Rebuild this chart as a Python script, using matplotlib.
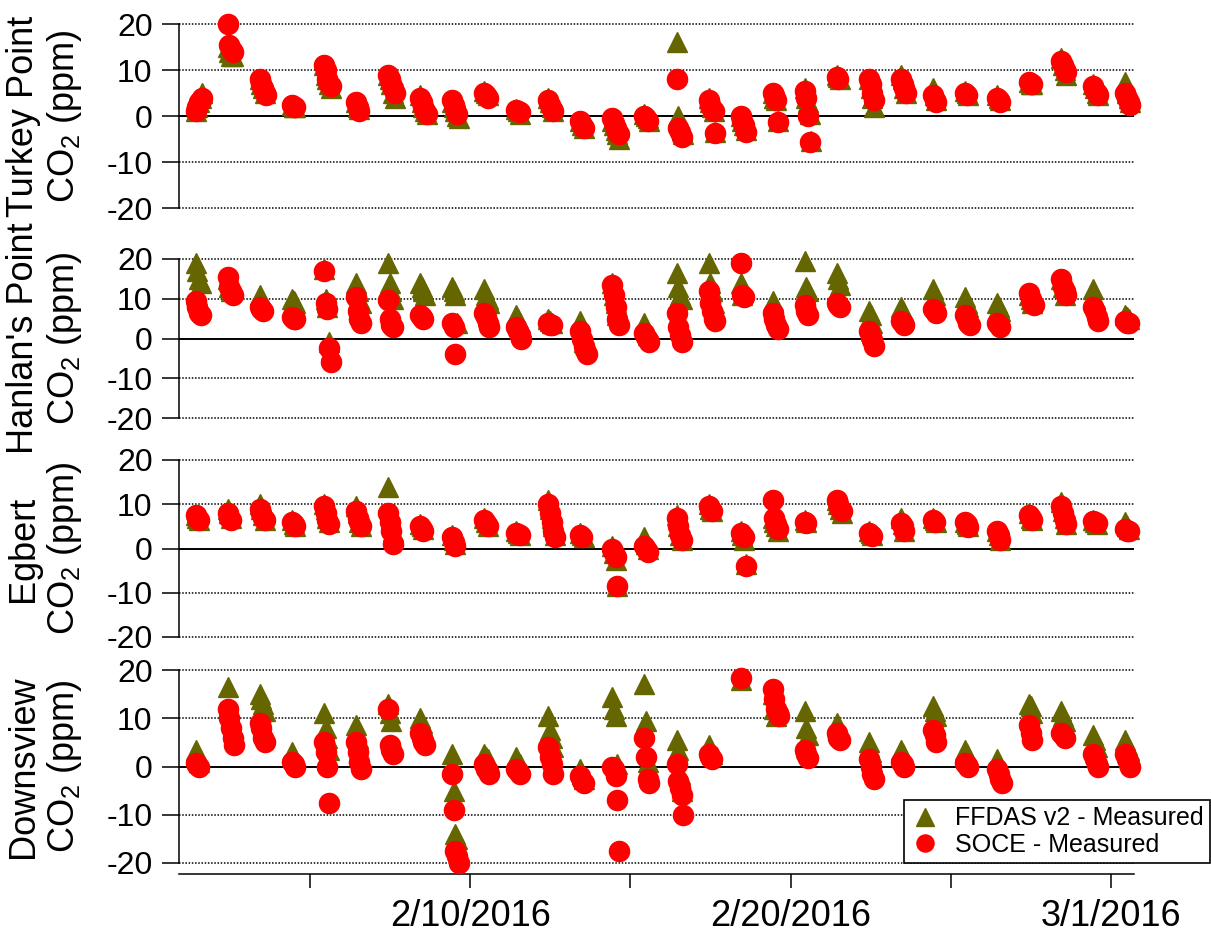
import matplotlib
matplotlib.use('Agg')
import matplotlib.pyplot as plt
import matplotlib.dates as mdates
from matplotlib.ticker import FixedLocator, FuncFormatter
from datetime import datetime, timedelta

plt.rcParams['font.family'] = ['Liberation Sans', 'DejaVu Sans']
plt.rcParams['mathtext.fontset'] = 'custom'
plt.rcParams['mathtext.rm'] = 'Liberation Sans'
plt.rcParams['mathtext.it'] = 'Liberation Sans:italic'
plt.rcParams['axes.unicode_minus'] = False

# ---------------- data ----------------
DAYS = [datetime(2016, 2, 1) + timedelta(days=i) for i in range(30)]  # Feb 1 .. Mar 1
HOURS = [10.5, 11.75, 13, 14.25, 15.5]  # sampling hours within each day

SITES = ["Turkey Point", "Hanlan's Point", "Egbert", "Downsview"]

TP_FFDAS = [[1, 2, 3, 4, 5], [15, 14, 13, 13], [8, 7, 6, 5], [2.5, 2, 2], [11, 9, 8, 7, 6],
            [3, 2, 1.5], [9, 8, 7, 5, 4], [4.5, 3, 2, 1, 0.5], [3, 2, 1, 0, -0.5], [5.5, 5, 4.5],
            [1.5, 1, 0.5], [4, 3, 2, 1], [-1, -2, -2.5], [-1, -2, -3, -4, -5], [0.5, 0, -0.5, -1],
            [16, 0, -2, -3, -4], [4, 3, 2, 1, -3.5], [0, -1, -2, -3], [5, 4, 3.5, -1], [6, 4, 3, 0.5, -5.5],
            [9, 8.5, 8], [8, 6, 4, 2], [9, 8, 6, 5], [6, 4.5, 3.5], [5.5, 5, 4.5],
            [4.5, 4, 3.5], [7.5, 7, 7], [12.5, 11, 10, 9], [7, 6, 5, 4.5], [7.5, 5, 4, 3]]
TP_SOCE = [[1, 2, 3, 3.5, 4], [20, 15.5, 14.5, 14], [8, 7, 6, 5, 4.5], [2.5, 2, 2], [11, 10, 8, 7, 6.5],
           [3, 2, 1], [9, 8, 7, 6, 5], [4, 3, 2, 1, 0.5], [3.5, 2.5, 1.5, 0.5], [5, 4.5, 4],
           [1.2, 1, 0.8], [3.5, 2.5, 1.5, 1], [-1, -2, -2.5], [-0.5, -1.5, -2.5, -3.5, -4], [0, -0.5, -1],
           [8, -2.5, -3.5, -4.5], [3.5, 2.5, 1.5, 1, -3.7], [0, -1, -2, -3.5], [5, 4.5, 3.5, -1.3], [5.5, 4, 0, -5.6],
           [8.5, 8], [8, 7, 5, 3.5], [8, 7, 6, 5], [4.5, 3.5, 3], [5, 4.5],
           [4, 3.5, 3], [7.5, 7, 7], [12, 11, 10, 9.5], [6.5, 5.5, 5, 4.5], [5, 4, 3, 2.5]]

HP_FFDAS = [[19, 17, 15, 14], [15, 13, 12], [11, 10, 9], [10, 9.5, 9], [17.5, 10, 8, -1, -3],
            [14, 12, 10, 9], [19, 14, 12, 10], [14, 13, 12, 11], [13, 12, 11, 4], [12.5, 11, 10, 9],
            [6, 5, 4, 2], [5, 4.5, 4], [4.5, 2, -1], [14, 11, 9, 6], [4, 2.5, 1],
            [16.5, 13, 11, 10], [19, 14, 12, 9], [14, 11], [9.5, 8, 6, 5], [19.5, 13, 12],
            [16.5, 15, 13.5], [7, 6, 4], [8, 7], [12.5, 11], [10.5, 9, 8],
            [9, 8, 7], [11, 10, 9], [15, 13, 11], [12.5, 10, 8], [6, 5.5, 5]]
HP_SOCE = [[9.5, 8, 6.5, 6], [15.5, 13, 12, 11], [8, 7.5, 7], [5.5, 5, 4.8], [17, 9, 7.5, -2.5, -6],
           [10.5, 7, 5, 4], [9.8, 5, 3.5, 2.8], [6, 5.5, 5], [4, 3, -3.8], [6.5, 5.5, 4, 3],
           [3, 2, 1, 0], [4, 3.5, 3.5], [2, 0, -2, -3, -4], [13.5, 11, 8, 5, 3.5], [1.5, 0.5, -0.5, -1],
           [6.5, 3, 1, -1], [12, 9, 7, 5, 4.5], [19, 11, 10.5], [6.5, 5, 3.5, 2.5], [8.5, 7, 6],
           [9, 8.5, 8], [2, 0.5, -0.5, -1.8], [4.5, 4, 3.5], [7.5, 7, 6.5], [6, 5, 4, 3.5],
           [4, 3.5, 3], [11.5, 10, 9, 8.5], [15, 13, 12, 11], [8, 7, 5.5, 4.5], [4.5, 4, 4]]

EG_FFDAS = [[7.5, 7, 6.5], [9, 8, 7], [10, 9, 7.5, 6.5], [6.5, 5.5, 5], [10, 9, 7, 6],
            [9.5, 8, 6, 5], [14, 8, 6, 4], [5.5, 5, 4.5], [3, 2, 1], [7, 6, 5],
            [4, 3.5, 3], [11, 9, 7, 5, 3], [3.5, 3, 2.5], [0.5, -1, -2.5, -8.5], [2.5, 1, 0],
            [7.5, 5, 3, 2], [10, 9, 8.5], [4, 3, 2, -3.5], [7, 6, 5, 4], [6.5, 6],
            [11, 10, 9, 8], [4, 3.5, 3], [7, 5.5, 4], [7, 6.5, 6], [6, 5.5, 5],
            [4, 3, 2], [8, 7, 6.5], [10.5, 8.5, 7, 5.5], [6.5, 6, 5.5], [6, 5, 4.5]]
EG_SOCE = [[7.5, 7, 6.5], [8, 7, 6.5], [9, 8, 7, 6.5], [6, 5.5, 5], [9.5, 8, 6.5, 5.5],
           [8.5, 7, 6, 5], [8, 6, 4, 1], [5, 4.5, 4], [2.5, 1.5, 0.5], [6.5, 5.8, 5],
           [3.5, 3.3, 3], [10, 8, 6, 4, 2.5], [3, 2.5], [-0.2, -1, -2, -8.5], [0.5, 0, -0.8],
           [7, 5, 3, 2], [9.5, 9, 8.5], [3.5, 3, 2.5, -4], [11, 7, 5.5, 4.5], [6, 5.8],
           [11, 10, 9, 8.5], [3.5, 3, 2.8], [5.8, 5, 4], [6.5, 6], [6, 5.5, 4.8],
           [4, 3, 2], [7.5, 7, 6.5], [9.5, 8, 6.5, 5.5], [6.3, 6, 5.8], [4.5, 4, 4]]

DV_FFDAS = [[3.5, 2, 1], [16.5, 12, 10, 8], [15, 14, 13, 11.5], [3, 2, 1.5], [11, 8, 6, 3.5],
            [8.5, 6, 3], [13, 11, 9.5], [10, 9, 8], [2.5, -5, -14, -15], [2.5, 2, 1.5],
            [2, 1, 0.5], [10.5, 7.5, 6, 4], [-0.5, -1.5, -2.5], [14.5, 12, 10.5, 0.5], [17, 9.5, 1, -2],
            [5.5, 3.5, -1.5, -5], [4.5, 3.5, 2.5], [18], [15, 12, 10.5], [11.5, 8, 6.5],
            [9, 8, 7], [5, 3, 1], [3.5, 2.5, 1.5], [12.5, 11.5, 10.5], [3.5, 2.5, 1.5],
            [1.5, 0, -1], [13, 12.5, 11], [11.5, 10.5, 9.5], [6.5, 5.5, 4], [5.5, 4.5, 3.5]]
DV_SOCE = [[0.8, 0.3, 0], [12, 10, 8, 6, 4.5], [9, 8, 6, 5], [1, 0.5, 0], [5, 3, 0, -7.6],
           [5, 3, 1, -0.5], [12, 4.5, 3.5, 2.5], [7, 6, 5, 4.5], [-1.5, -9, -17.5, -18.5, -20], [0.5, -0.5, -1, -1.5],
           [-0.5, -1, -1.5], [4, 2, 0.5, -1.5], [-2, -3, -3.5], [0, -0.5, -2, -7, -17.5], [6, 2, -2.5, -3.5],
           [0.5, -3, -4.5, -6, -10], [2.5, 2, 1.5], [18.3], [16, 14, 12, 11, 10.5], [3.5, 2.5, 1.7],
           [7, 6, 5.5], [1.5, 0, -1.5, -2.5], [1, 0.5, 0], [7.5, 6.5, 5], [0.8, 0.3, 0],
           [-0.5, -1.5, -2.5, -3.5], [8.5, 7, 5.5], [7, 6.5, 6], [2.5, 1.5, 0.5, 0], [2.5, 1.5, 0.5, 0]]

FFDAS = [TP_FFDAS, HP_FFDAS, EG_FFDAS, DV_FFDAS]
SOCE = [TP_SOCE, HP_SOCE, EG_SOCE, DV_SOCE]

YTICKS = [-20, -10, 0, 10, 20]
MAJOR_DATES = [datetime(2016, 2, 10), datetime(2016, 2, 20), datetime(2016, 3, 1)]
MINOR_DATES = [datetime(2016, 2, 5), datetime(2016, 2, 15), datetime(2016, 2, 25)]
LEGEND_LABELS = ["FFDAS v2 - Measured", "SOCE - Measured"]

OLIVE = '#666600'
RED = '#FF0000'


def expand(day_lists):
    xs, ys = [], []
    for day, vals in zip(DAYS, day_lists):
        for h, v in zip(HOURS, vals):
            xs.append(day + timedelta(hours=h))
            ys.append(v)
    return xs, ys


# ---------------- figure ----------------
W, H = 1211, 939
fig = plt.figure(figsize=(W / 100, H / 100), dpi=100)

panel_px = [(24, 208), (259, 418), (460, 637), (670, 863)]
x_left, x_right = 179, 1134

handles = []
for i, (top, bot) in enumerate(panel_px):
    ax = fig.add_axes([x_left / W, 1 - bot / H, (x_right - x_left) / W, (bot - top) / H])
    ax.set_xlim(datetime(2016, 1, 31, 22), datetime(2016, 3, 1, 17))
    ax.set_ylim(-20, 20)
    for s in ['top', 'right']:
        ax.spines[s].set_visible(False)
    ax.spines['left'].set_linewidth(1.1)
    ax.set_yticks(YTICKS)
    ax.tick_params(axis='y', direction='out', length=12, width=1.1, labelsize=23, pad=7)

    for v in [-20, -10, 10, 20]:
        ax.axhline(v, color='black', lw=1.1, ls=(0, (1, 1.1)), clip_on=False, zorder=1)
    ax.axhline(0, color='black', lw=1.4, zorder=1)

    xf, yf = expand(FFDAS[i])
    xs, ys = expand(SOCE[i])
    h1, = ax.plot(xf, yf, ls='none', marker='^', ms=14.5, color=OLIVE, mec=OLIVE,
                  clip_on=False, zorder=3)
    h2, = ax.plot(xs, ys, ls='none', marker='o', ms=14.5, color=RED, mec=RED,
                  clip_on=False, zorder=4)
    if i == 0:
        handles = [h1, h2]

    if i < 3:
        ax.spines['bottom'].set_visible(False)
        ax.tick_params(axis='x', bottom=False, labelbottom=False, which='both')
    else:
        ax.spines['bottom'].set_position(('outward', 8))
        ax.spines['bottom'].set_linewidth(1.1)
        ax.xaxis.set_major_locator(FixedLocator(mdates.date2num(MAJOR_DATES)))
        ax.xaxis.set_minor_locator(FixedLocator(mdates.date2num(MINOR_DATES)))
        ax.xaxis.set_major_formatter(FuncFormatter(
            lambda x, pos: (lambda d: f"{d.month}/{d.day}/{d.year}")(mdates.num2date(x))))
        ax.tick_params(axis='x', which='both', direction='out', length=10, width=1.1,
                       labelsize=26, pad=8)

    center = (top + bot) / 2
    fig.text(45 / W, 1 - center / H, SITES[i] + "\nCO$_2$ (ppm)", rotation=90,
             ha='center', va='center', fontsize=26, linespacing=1.15)

leg = fig.legend(handles, LEGEND_LABELS, loc='lower right',
                 bbox_to_anchor=(1210 / W, 1 - 863 / H), fontsize=18, frameon=True,
                 fancybox=False, edgecolor='black', framealpha=1, borderaxespad=0,
                 handlelength=1.2, handletextpad=0.6, borderpad=0.25, labelspacing=0.1,
                 markerscale=0.85)
leg.get_frame().set_linewidth(1.2)

fig.savefig('out.png', dpi=100)
